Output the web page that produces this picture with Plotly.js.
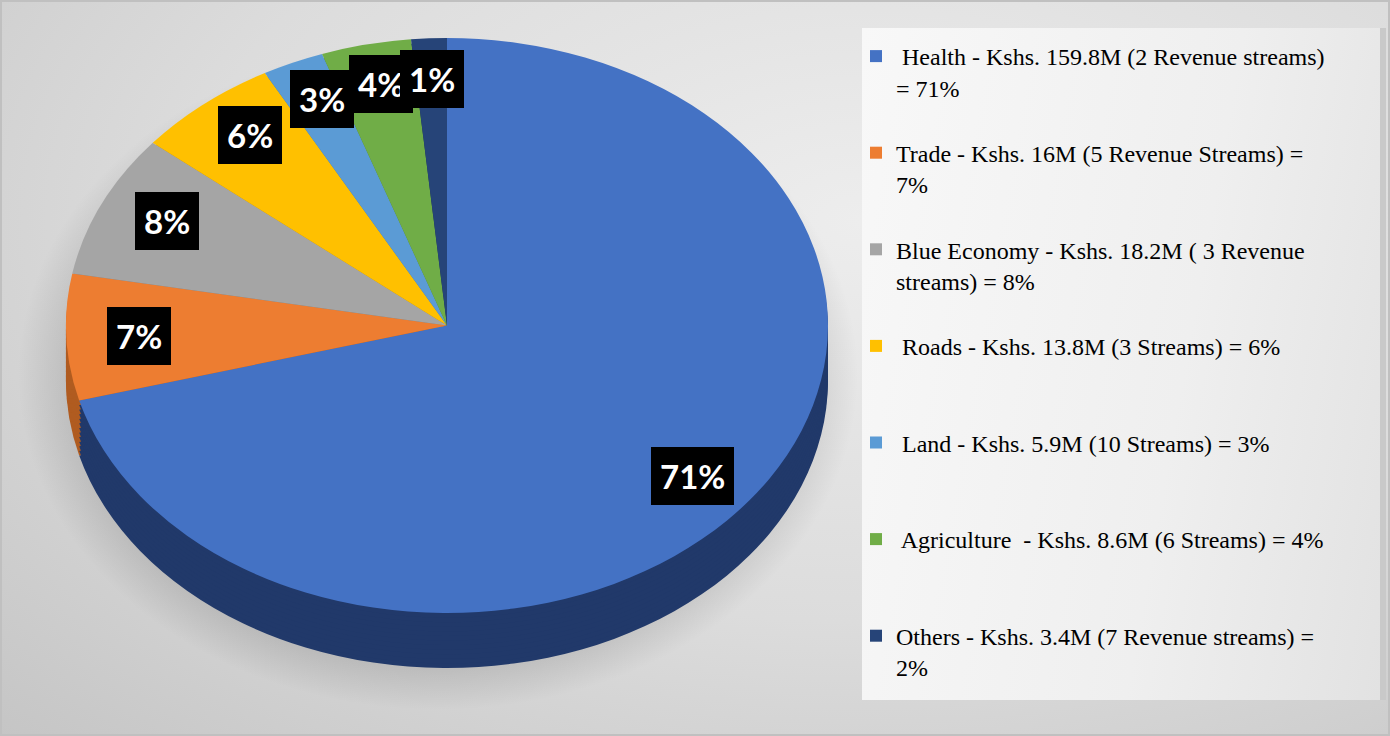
<!DOCTYPE html>
<html><head><meta charset="utf-8">
<script src="https://cdn.plot.ly/plotly-3.0.1.min.js"></script>
<style>
html,body{margin:0;padding:0;background:#fff;}
#wrap{position:relative;width:1390px;height:736px;overflow:hidden;
 background:
  radial-gradient(ellipse 420px 335px at 438px 375px, rgba(0,0,0,0.16) 82%, rgba(0,0,0,0) 100%),
  radial-gradient(ellipse at 62% 30%, #ededed 0%, #dcdcdc 55%, #c5c5c5 100%);
 box-shadow: inset 0 0 0 2px #c0c0c0;}
#legbox{position:absolute;left:862px;top:28px;width:518px;height:672px;
 background:linear-gradient(100deg,#f8f8f8 0%,#efefef 60%,#e2e2e2 100%);
 box-shadow:6px 0 0 #c9c9c9;}
#chart{position:absolute;left:0;top:0;width:1390px;height:736px;}
</style></head>
<body>
<div id="wrap"><div id="legbox"></div><div id="chart"></div></div>
<script>
// ---- data ----
const categories = [
  " Health - Kshs. 159.8M (2 Revenue streams)<br>= 71%",
  "Trade - Kshs. 16M (5 Revenue Streams) =<br>7%",
  "Blue Economy - Kshs. 18.2M ( 3 Revenue<br>streams) = 8%",
  " Roads - Kshs. 13.8M (3 Streams) = 6%",
  " Land - Kshs. 5.9M (10 Streams) = 3%",
  " Agriculture  - Kshs. 8.6M (6 Streams) = 4%",
  "Others - Kshs. 3.4M (7 Revenue streams) =<br>2%"
];
const values = [159.8, 16, 18.2, 13.8, 5.9, 8.6, 3.4];
const pctLabels = ["71%", "7%", "8%", "6%", "3%", "4%", "1%"];
const topColors = ["#4472c4", "#ed7d31", "#a5a5a5", "#ffc000", "#5b9bd5", "#70ad47", "#264478"];
const sideColors = ["#21396a", "#b05c20", "#7b7b7b", "#c09000", "#41719c", "#507e32", "#1b2d52"];

// ---- geometry (pixels) ----
const W = 1390, H = 736;
const CX = 447, CY = 325.5, RY = 287.5, RX = 381, DEPTH = 55;
const SX = RX / RY;

// legend texts padded to equal height (3 lines)
const legendTexts = categories.map(t => {
  const n = t.split("<br>").length;
  let s = t;
  for (let i = n; i < 3; i++) s += "<br>\u00a0";
  return s;
});

function pieDomain(offset) {
  const cy = CY + offset;
  return {
    x: [(CX - RY) / W, (CX + RY) / W],
    y: [(H - cy - RY) / H, (H - cy + RY) / H]
  };
}

const data = [];
const LAYERS = 12;
for (let k = LAYERS; k >= 1; k--) {
  data.push({
    type: "pie", labels: legendTexts, values: values, sort: false,
    direction: "clockwise", rotation: 0, textinfo: "none", hoverinfo: "none",
    showlegend: false, domain: pieDomain(DEPTH * k / LAYERS),
    marker: {colors: sideColors, line: {width: 0}}
  });
}
data.push({
  type: "pie", labels: legendTexts, values: values, sort: false,
  direction: "clockwise", rotation: 0, textinfo: "none", hoverinfo: "none",
  domain: pieDomain(0),
  marker: {colors: topColors, line: {width: 0}}
});

// data labels positioned from slice mid-angles
const total = values.reduce((a, b) => a + b, 0);
let cum = 0;
const annotations = values.map((v, i) => {
  const mid = (cum + v / 2) / total * 2 * Math.PI;
  cum += v;
  const px = CX + 0.81 * RX * Math.sin(mid);
  const py = CY - 0.86 * RY * Math.cos(mid);
  return {
    xref: "paper", yref: "paper", x: px / W, y: 1 - py / H,
    xanchor: "center", yanchor: "middle", showarrow: false,
    text: pctLabels[i],
    font: {family: "Lato, 'Open Sans', sans-serif", size: 33, color: "#ffffff", weight: 700},
    bgcolor: "#000000", bordercolor: "#000000", borderwidth: 1, borderpad: 8
  };
});

const layout = {
  width: W, height: H,
  margin: {l: 0, r: 0, t: 0, b: 0},
  paper_bgcolor: "rgba(0,0,0,0)", plot_bgcolor: "rgba(0,0,0,0)",
  showlegend: true,
  legend: {
    x: 856 / W, xanchor: "left", y: 1 - 34 / H, yanchor: "top",
    bgcolor: "rgba(0,0,0,0)", borderwidth: 0, valign: "top",
    font: {family: "'Liberation Serif', 'Times New Roman', serif", size: 24, color: "#000000"},
    itemclick: false, itemdoubleclick: false
  },
  annotations: annotations
};

Plotly.newPlot("chart", data, layout, {staticPlot: true, displayModeBar: false}).then(gd => {
  const pl = gd.querySelector(".pielayer");
  if (pl) pl.setAttribute("transform", `translate(${CX},0) scale(${SX},1) translate(${-CX},0)`);
});
</script>
</body></html>
